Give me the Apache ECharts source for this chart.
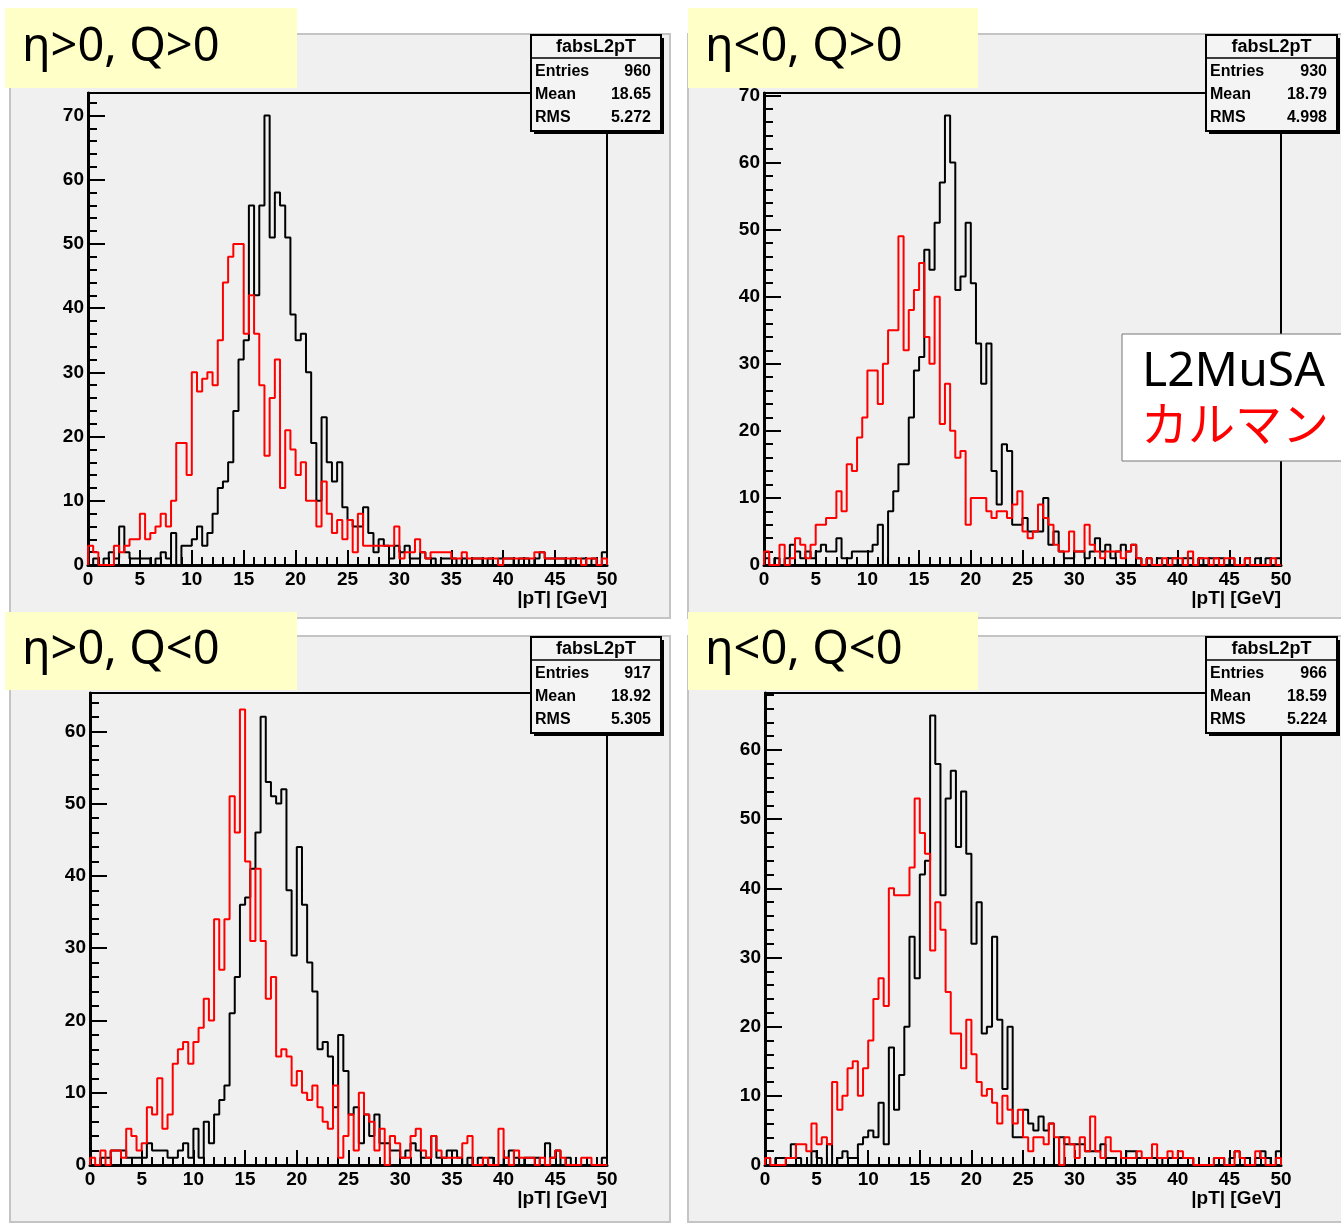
<!DOCTYPE html>
<html><head><meta charset="utf-8">
<script src="https://cdn.jsdelivr.net/npm/echarts@6/dist/echarts.min.js"></script>
<style>html,body{margin:0;padding:0;background:#fff;}#c{width:1341px;height:1226px;}</style>
</head><body><div id="c"></div>
<script>
// ---------------- DATA ----------------
// 100 bins of 0.5 GeV from 0 to 50 GeV
const binWidth = 0.5;
const nBins = 100;
const panelTitles = ["η>0, Q>0", "η<0, Q>0", "η>0, Q<0", "η<0, Q<0"];
const statsEntries = ["960", "930", "917", "966"];
const statsMean = ["18.65", "18.79", "18.92", "18.59"];
const statsRMS = ["5.272", "4.998", "5.305", "5.224"];
const histName = "fabsL2pT";
const xAxisTitle = "|pT| [GeV]";
const seriesNames = ["L2MuSA", "カルマン"];
const yMaxes = [73.5, 70.35, 65.3, 68.25];

// eta>0, Q>0
const etaPosQPos_L2MuSA = [0,1,0,1,2,1,6,2,1,1, 1,1,0,1,2,1,5,0,3,3, 4,6,3,5,8,12,13,16,24,32,
  35,56,42,56,70,51,58,56,51,39, 35,36,30,19,10,23,16,13,16,9, 7,6,6,9,5,2,4,3,1,3,
  2,3,1,1,2,1,1,0,1,1, 1,0,1,0,1,1,0,1,0,1, 1,1,0,1,1,0,1,2,1,1, 1,1,0,1,0,1,0,1,0,2];
const etaPosQPos_Kalman = [3,2,0,0,0,3,2,3,4,4, 8,4,5,6,8,6,10,19,19,14, 30,27,29,30,28,35,44,48,50,50,
  36,42,36,28,17,26,32,12,21,18, 14,16,10,10,6,13,8,5,7,4, 7,2,8,3,3,3,3,3,3,6,
  1,2,2,4,2,1,2,2,2,2, 1,1,2,1,1,1,1,1,1,0, 1,1,1,1,1,1,2,2,1,1, 1,1,1,1,1,0,1,1,0,1];
// eta<0, Q>0
const etaNegQPos_L2MuSA = [1,0,1,0,1,3,2,1,2,1, 2,3,2,2,4,1,1,2,2,2, 2,3,6,0,8,11,15,15,22,29, 31,47,44,
  51,57,67,60,41,43,51,42,33,27,33,14,9,18,17,6,6,7,5,5,5,10,3,5,2,1,1,2,2,1,2,4,
  2,3,1,2,3,2,3,1, 0,1,0,1,0,1,1,0,1,1,0,1,0,1,1,1,0,1,0,0,1,0,1,0,1,0,1];
const etaNegQPos_Kalman = [2,0,0,3,0,1,4,3,1,3, 6,6,7,7,11,8,15,14,19,22, 29,29,24,30,35,35,49,32,38,41, 45,34,30,
  40,21,27,20,16,17,6,10,10,10,8,7,8,8,7,9,11,5,4,5,9,7,6,3,2,2,5,2,2,6,3,2,
  1,2,2,2,1,2,3,1, 0,1,0,0,1,0,1,1,0,2,0,1,1,0,1,0,1,1,0,0,1,0,0,0,0,1,0];
// eta>0, Q<0
const etaPosQNeg_L2MuSA = [0,0,1,1,2,2,2,1,1,1, 1,3,2,2,2,1,1,2,3,1, 5,1,6,3,7,9,11,21,26,36, 37,41,46,
  62,53,51,50,52,38,29,44,36,28,24,16,17,15,8,18,13,7,8,3,7,4,7,3,3,2,2,1,2,3,2,1,
  1,4,1,1,2,2,1,0,1,0,1,0,1,0,0,1,2,1,0,1,1,1,0,3,1,2,0,1,0,0,0,0,0,0,1];
const etaPosQNeg_Kalman = [1,0,2,0,2,2,1,5,4,2, 3,8,7,12,5,7,14,16,17,14, 17,19,23,20,34,27,34,51,46,63, 42,31,41,
  31,23,26,15,16,15,11,13,10,9,11,8,6,5,11,1,4,7,2,10,7,6,2,5,0,4,3,1,1,4,5,2,
  1,4,2,1,1,1,1,3,4,0,0,1,0,0,5,1,0,2,1,1,1,0,1,0,1,2,1,0,0,0,1,1,0,0,0];
// eta<0, Q<0
const etaNegQNeg_L2MuSA = [1,0,1,1,1,3,1,0,0,2, 1,0,3,0,1,2,1,1,3,4, 5,4,9,3,17,8,13,20,33,27, 42,44,65,
  58,39,53,57,46,54,45,32,38,19,20,33,21,11,20,4,4,8,6,5,7,5,6,0,4,3,3,3,3,2,2,2,
  3,1,1,0,1,2,2,1,1,1,1,0,1,1,1,1,1,1,0,0,0,0,1,1,0,1,2,1,1,0,1,2,1,0,2];
const etaNegQNeg_Kalman = [1,0,0,0,1,1,3,3,2,6, 3,4,3,12,8,10,14,15,10,14, 18,24,27,23,40,39,39,39,43,53, 48,45,31,
  38,34,25,19,19,14,21,16,12,10,11,9,6,10,8,6,8,4,2,4,4,3,6,4,0,4,3,1,4,2,7,2,
  1,4,2,2,1,1,1,2,1,1,3,1,1,2,1,2,1,1,0,0,0,0,1,1,0,0,2,1,0,0,2,1,0,0,1];

const blackSeries = [etaPosQPos_L2MuSA, etaNegQPos_L2MuSA, etaPosQNeg_L2MuSA, etaNegQNeg_L2MuSA];
const redSeries = [etaPosQPos_Kalman, etaNegQPos_Kalman, etaPosQNeg_Kalman, etaNegQNeg_Kalman];

// ---------------- LAYOUT ----------------
const layout = [
  {bg:[10,34,660,584], title:[5,8,292,80], grid:[88,93,519,472], stats:[531,35,130,96]},
  {bg:[688,34,655,584], title:[688,8,290,80], grid:[764,93,517,472], stats:[1206,35,131,96]},
  {bg:[10,636,660,586], title:[5,612,292,78], grid:[90,693,517,472], stats:[531,637,130,96]},
  {bg:[688,636,655,586], title:[688,612,290,78], grid:[765,693,516,472], stats:[1206,637,131,96]}
];

function stepData(vals){
  const d=[[0,0]];
  vals.forEach((v,i)=>d.push([i*binWidth, v]));
  d.push([nBins*binWidth, vals[vals.length-1]]);
  d.push([nBins*binWidth, 0]);
  return d;
}

const tickFont = {fontSize:19, fontWeight:'bold', color:'#000', fontFamily:'Liberation Sans, Arial, sans-serif'};
const grids=[], xAxes=[], yAxes=[], series=[], graphics=[];

layout.forEach((L,k)=>{
  const [gl,gt,gw,gh]=L.grid;
  grids.push({left:gl, top:gt, width:gw, height:gh, show:true, borderColor:'#000', borderWidth:2, backgroundColor:'transparent'});
  xAxes.push({gridIndex:k, type:'value', position:'bottom', min:0, max:50, interval:5,
    axisLine:{lineStyle:{color:'#000', width:3}},
    axisTick:{inside:true, length:15, lineStyle:{color:'#000', width:2}},
    axisLabel:Object.assign({margin:5}, tickFont),
    splitLine:{show:false},
    name:xAxisTitle, nameLocation:'end', nameGap:0,
    nameTextStyle:{align:'right', verticalAlign:'top', padding:[24,0,0,0], fontSize:19, fontWeight:'bold', color:'#000', fontFamily:'Liberation Sans, Arial, sans-serif'}
  });
  xAxes.push({gridIndex:k, type:'value', position:'bottom', min:0, max:50, interval:1,
    axisLine:{show:false}, axisTick:{inside:true, length:8, lineStyle:{color:'#000', width:2}},
    axisLabel:{show:false}, splitLine:{show:false}});
  yAxes.push({gridIndex:k, type:'value', position:'left', min:0, max:yMaxes[k], interval:10,
    axisLine:{show:true, lineStyle:{color:'#000', width:3}},
    axisTick:{show:true, inside:true, length:17, lineStyle:{color:'#000', width:2}},
    axisLabel:Object.assign({margin:4, showMaxLabel:false}, tickFont),
    splitLine:{show:false}});
  yAxes.push({gridIndex:k, type:'value', position:'left', min:0, max:yMaxes[k], interval:2,
    axisLine:{show:false}, axisTick:{show:true, inside:true, length:9, lineStyle:{color:'#000', width:2}},
    axisLabel:{show:false}, splitLine:{show:false}});
  series.push({name:seriesNames[0], type:'line', xAxisIndex:2*k, yAxisIndex:2*k, step:'end', symbol:'none',
    data:stepData(blackSeries[k]), lineStyle:{color:'#000', width:2}, itemStyle:{color:'#000'}, animation:false, z:3});
  series.push({name:seriesNames[1], type:'line', xAxisIndex:2*k, yAxisIndex:2*k, step:'end', symbol:'none',
    data:stepData(redSeries[k]), lineStyle:{color:'#ff0000', width:2}, itemStyle:{color:'#ff0000'}, animation:false, z:4});

  // panel background
  const [bx,by,bw,bh]=L.bg;
  graphics.push({type:'rect', shape:{x:bx,y:by,width:bw,height:bh}, style:{fill:'#f0f0f0', stroke:'#c4c4c4', lineWidth:2}, z:-10, silent:true});
  // title box
  const [tx,ty,tw,th]=L.title;
  graphics.push({type:'rect', shape:{x:tx,y:ty,width:tw,height:th}, style:{fill:'#ffffc8'}, z:50, silent:true});
  graphics.push({type:'text', x:tx+17, y:ty+th/2, style:{text:panelTitles[k], fill:'#000', fontSize:47, fontFamily:'Noto Sans, DejaVu Sans, sans-serif', align:'left', verticalAlign:'middle'}, z:51, silent:true});
  // stats box
  const [sx,sy,sw,sh]=L.stats;
  graphics.push({type:'rect', shape:{x:sx+3,y:sy+3,width:sw,height:sh}, style:{fill:'#000'}, z:50, silent:true});
  graphics.push({type:'rect', shape:{x:sx,y:sy,width:sw,height:sh}, style:{fill:'#f4f4f4', stroke:'#000', lineWidth:2}, z:51, silent:true});
  graphics.push({type:'line', shape:{x1:sx,y1:sy+23,x2:sx+sw,y2:sy+23}, style:{stroke:'#000', lineWidth:1.5}, z:52, silent:true});
  const sf = {fill:'#000', fontSize:16, fontWeight:'bold', fontFamily:'Liberation Sans, Arial, sans-serif', verticalAlign:'middle'};
  graphics.push({type:'text', x:sx+sw/2, y:sy+12, style:Object.assign({}, sf, {text:histName, align:'center', fontSize:18}), z:53, silent:true});
  const rows=[['Entries',statsEntries[k]],['Mean',statsMean[k]],['RMS',statsRMS[k]]];
  rows.forEach((r,j)=>{
    const yy = sy+37+j*23;
    graphics.push({type:'text', x:sx+4, y:yy, style:Object.assign({}, sf, {text:r[0], align:'left'}), z:53, silent:true});
    graphics.push({type:'text', x:sx+sw-10, y:yy, style:Object.assign({}, sf, {text:r[1], align:'right'}), z:53, silent:true});
  });
});

// legend box
graphics.push({type:'rect', shape:{x:1122,y:334,width:225,height:127}, style:{fill:'#fff', stroke:'#777', lineWidth:1}, z:60, silent:true});
graphics.push({type:'text', x:1142, y:372, style:{text:seriesNames[0], fill:'#000', fontSize:48, fontFamily:'Noto Sans, DejaVu Sans, sans-serif', align:'left', verticalAlign:'middle'}, z:61, silent:true});
graphics.push({type:'text', x:1141, y:423, style:{text:seriesNames[1], fill:'#ff0000', fontSize:47, fontFamily:'Noto Sans CJK JP, sans-serif', align:'left', verticalAlign:'middle'}, z:61, silent:true});

const chart = echarts.init(document.getElementById('c'), null, {renderer:'canvas'});
chart.setOption({
  animation:false,
  backgroundColor:'#ffffff',
  grid:grids, xAxis:xAxes, yAxis:yAxes, series:series,
  graphic:{elements:graphics}
});
</script></body></html>
